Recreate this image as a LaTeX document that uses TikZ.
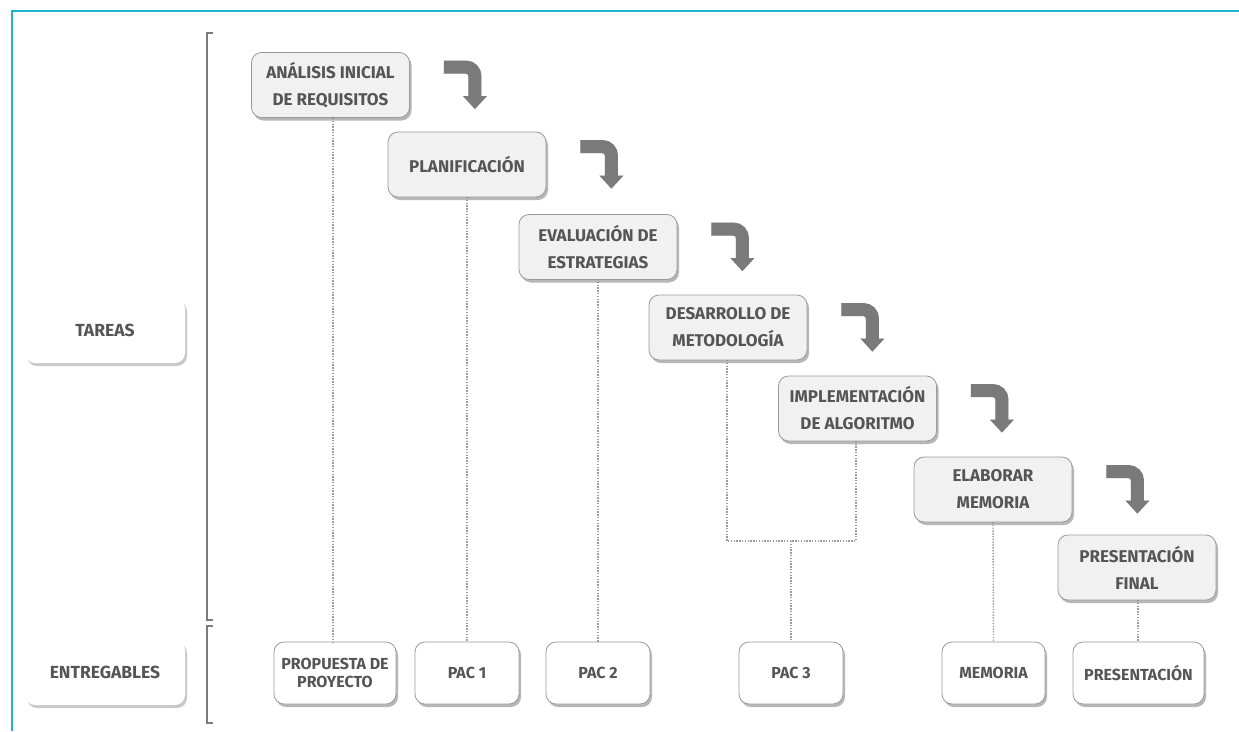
\documentclass[tikz,border=0pt]{standalone}
\usepackage{fontspec}
\setmainfont{Fira Sans}
\usetikzlibrary{shadows,calc}
\definecolor{txt}{HTML}{555555}
\definecolor{frame}{HTML}{1EB4CF}
\definecolor{taskfill}{HTML}{F1F1F1}
\definecolor{boxline}{HTML}{9A9A9A}
\definecolor{arrowc}{HTML}{7A7A7A}
\definecolor{dotc}{HTML}{9C9C9C}
\definecolor{brk}{HTML}{7C7C7C}
\begin{document}
\begin{tikzpicture}[x=1pt,y=-1pt,
  lbl/.style={font=\bfseries\fontsize{17}{27}\selectfont, text=txt, align=center, inner sep=0pt},
  shad/.style={drop shadow={shadow xshift=2pt, shadow yshift=-3pt, opacity=0.4, fill=black!70}},
  task/.style={lbl, shad, draw=boxline, line width=0.8pt, fill=taskfill, rounded corners=10pt, minimum width=158pt, minimum height=65pt},
  deliv/.style={lbl, shad, font=\bfseries\fontsize{16}{17.5}\selectfont, draw=boxline, line width=0.8pt, fill=white, rounded corners=10pt, minimum width=104pt, minimum height=62pt},
  side/.style={lbl, font=\bfseries\fontsize{17.5}{20}\selectfont, drop shadow={shadow xshift=2pt, shadow yshift=-3pt, opacity=0.3, fill=black!70}, fill=white, rounded corners=10pt, minimum width=160pt, minimum height=65pt},
  dotline/.style={dotc, line width=1.4pt, dash pattern=on 1.4pt off 1.4pt},
  bracket/.style={brk, line width=1.2pt},
  frameline/.style={frame, line width=2.5pt},
  shaft/.style={line width=13pt, rounded corners=9pt}
]
\useasboundingbox (0,0) rectangle (1239,731);
\fill[white] (0,0) rectangle (1239,731);
% frame
\draw[frameline] (12,731) -- (12,11) -- (1239,11);
% brackets
\draw[bracket] (213,33) -- (207,33) -- (207,620) -- (213,620);
\draw[bracket] (213,626) -- (207,626) -- (207,723) -- (213,723);
% side labels
\node[side] (tareas) at (105,330.5) {TAREAS};
\node[side] (entreg) at (105,672.5) {ENTREGABLES};
% deliverables
\node[deliv, minimum width=122pt] (d1) at (335,673) {PROPUESTA DE\\PROYECTO};
\node[deliv] (d2) at (467,673) {PAC 1};
\node[deliv] (d3) at (598,673) {PAC 2};
\node[deliv] (d4) at (791,673) {PAC 3};
\node[deliv, minimum width=103pt] (d5) at (993.5,673) {MEMORIA};
\node[deliv, minimum width=131pt] (d6) at (1138.5,673) {PRESENTACIÓN};
% dotted connectors (drawn before tasks)
\coordinate (j) at (791,541);
\draw[dotline] (333,118) -- (333,642);
\draw[dotline] (467,197) -- (467,642);
\draw[dotline] (598,279) -- (598,642);
\draw[dotline] (727,360) |- (j) -| (856,440);
\draw[dotline] (j) -- (d4.north);
\draw[dotline] (993,522) -- (d5.north);
\draw[dotline] (1138,600) -- (1138,642);
% tasks
\node[task] (t1) at (330.5,85) {ANÁLISIS INICIAL\\DE REQUISITOS};
\node[task] (t2) at (467,164.5) {PLANIFICACIÓN};
\node[task] (t3) at (598,247) {EVALUACIÓN DE\\ESTRATEGIAS};
\node[task] (t4) at (728,327.5) {DESARROLLO DE\\METODOLOGÍA};
\node[task] (t5) at (857.5,408.5) {IMPLEMENTACIÓN\\DE ALGORITMO};
\node[task] (t6) at (993,489.5) {ELABORAR\\MEMORIA};
\node[task] (t7) at (1137,567.5) {PRESENTACIÓN\\FINAL};
% bent arrows
\foreach \b in {t1,t2,t3,t4,t5,t6} {
  \coordinate (a\b) at ($(\b.north east)+(34,15)$);
  \begin{scope}[shift={(2,3)}, opacity=0.18]
    \draw[black, shaft] (a\b) -| ($(a\b)+(31,30)$);
    \fill[black] ($(a\b)+(19,29)$) -- ($(a\b)+(43,29)$) -- ($(a\b)+(31,42)$) -- cycle;
  \end{scope}
  \draw[arrowc, shaft] (a\b) -| ($(a\b)+(31,30)$);
  \fill[arrowc] ($(a\b)+(19,29)$) -- ($(a\b)+(43,29)$) -- ($(a\b)+(31,42)$) -- cycle;
}
\end{tikzpicture}
\end{document}
